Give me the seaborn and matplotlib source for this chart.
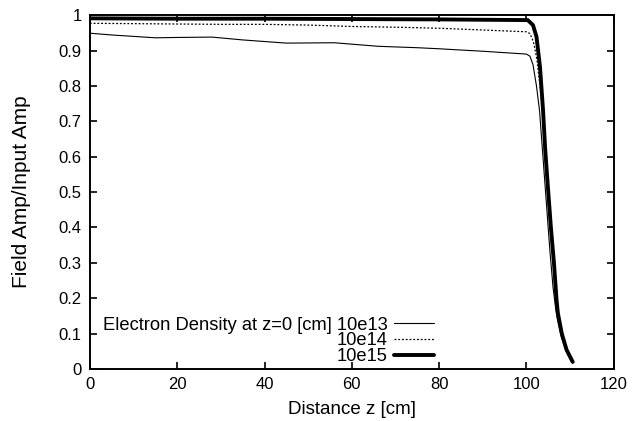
import matplotlib
matplotlib.use("Agg")
import matplotlib.pyplot as plt
import seaborn as sns
import numpy as np
import pandas as pd
from matplotlib.ticker import FuncFormatter, MultipleLocator

# ---- data ----
x13 = [0, 5, 10, 15, 20, 28, 35, 45, 56, 66, 75, 80, 90, 95, 100, 100.8, 101.5, 102.3, 103.0, 103.6,
       104.2, 104.8, 105.4, 106.1, 106.7, 107.1, 108.0, 109.1, 110.4]
y13 = [0.949, 0.944, 0.940, 0.936, 0.937, 0.938, 0.930, 0.921, 0.922, 0.912, 0.908, 0.905, 0.898, 0.894,
       0.890, 0.884, 0.860, 0.800, 0.730, 0.630, 0.530, 0.430, 0.330, 0.230, 0.170, 0.140, 0.090, 0.050, 0.020]

x14 = [0, 10, 20, 30, 40, 50, 60, 70, 80, 90, 100, 100.8, 101.6, 102.4, 103.1, 103.8,
       104.3, 105.0, 105.6, 106.3, 106.9, 107.2, 108.1, 109.2, 110.5]
y14 = [0.977, 0.976, 0.975, 0.974, 0.974, 0.972, 0.968, 0.966, 0.963, 0.958, 0.953, 0.948, 0.925, 0.875,
       0.800, 0.720, 0.610, 0.500, 0.400, 0.300, 0.195, 0.158, 0.100, 0.054, 0.020]

x15 = [0, 20, 40, 60, 80, 100.3, 101.5, 102.3, 103.1, 103.8, 104.3, 105.0, 105.6, 106.3, 106.9,
       107.2, 108.1, 109.2, 110.6]
y15 = [0.991, 0.990, 0.990, 0.989, 0.988, 0.986, 0.972, 0.939, 0.854, 0.732, 0.620, 0.500, 0.400,
       0.300, 0.195, 0.158, 0.100, 0.054, 0.020]

labels = ["Electron Density at z=0 [cm] 10e13", "10e14", "10e15"]
xticks = [0, 20, 40, 60, 80, 100, 120]

sns.set_style("ticks")
plt.rcParams["font.family"] = ["Liberation Sans", "DejaVu Sans"]
plt.rcParams["text.color"] = "black"
plt.rcParams["axes.labelcolor"] = "black"
plt.rcParams["xtick.color"] = "black"
plt.rcParams["ytick.color"] = "black"

fig = plt.figure(figsize=(6.42, 4.21), dpi=100)
ax = fig.add_axes([0.140, 0.1235, 0.816, 0.8405])

df13 = pd.DataFrame({"z": x13, "amp": y13})
df14 = pd.DataFrame({"z": x14, "amp": y14})
df15 = pd.DataFrame({"z": x15, "amp": y15})

sns.lineplot(data=df13, x="z", y="amp", ax=ax, color="black", linewidth=0.8,
             label=labels[0], sort=False)
sns.lineplot(data=df14, x="z", y="amp", ax=ax, color="black", linewidth=0.9,
             linestyle=(0, (1.5, 1.5)), label=labels[1], sort=False)
sns.lineplot(data=df15, x="z", y="amp", ax=ax, color="black", linewidth=2.8,
             label=labels[2], sort=False)

ax.set_xlim(0, 120)
ax.set_ylim(0, 1)
ax.set_xticks(xticks)
ax.yaxis.set_major_locator(MultipleLocator(0.1))
ax.yaxis.set_major_formatter(FuncFormatter(lambda v, p: "%g" % round(v, 2)))
ax.tick_params(direction="in", top=True, right=True, length=5, width=1.2,
               labelsize=12, colors="black", labelcolor="black", pad=6)
for s in ax.spines.values():
    s.set_linewidth(1.4)
    s.set_color("black")
    s.set_visible(True)

ax.set_xlabel("Distance z [cm]", fontsize=13.5, labelpad=6, color="black")
ax.set_ylabel("Field Amp/Input Amp", fontsize=15, color="black")
ax.yaxis.set_label_coords(-0.112, 0.5)

leg = ax.legend(loc="lower right", bbox_to_anchor=(0.664, 0.0), markerfirst=False,
                frameon=False, fontsize=13.2, handlelength=2.2, handletextpad=0.35,
                labelspacing=-0.06, borderpad=0.2, borderaxespad=0.0, labelcolor="black")

fig.savefig("out.png", dpi=100)
